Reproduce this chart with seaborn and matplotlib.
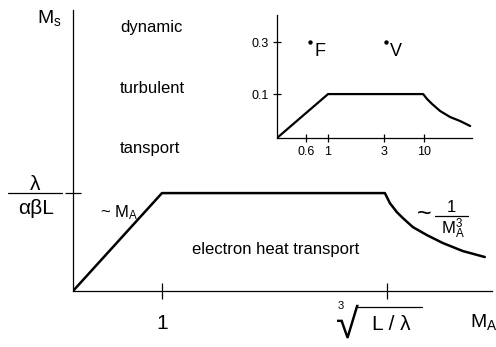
import matplotlib
matplotlib.use("Agg")
import matplotlib.pyplot as plt
from matplotlib.lines import Line2D
import seaborn as sns

# main sketch: M_s versus M_A (schematic units, knee at 1, roll-off at cube root)
main_x = [0, 1, 3.506, 3.562, 3.640, 3.708, 3.820, 3.978, 4.157, 4.382, 4.629]
main_y = [0, 1, 1.0, 0.898, 0.806, 0.745, 0.653, 0.571, 0.490, 0.408, 0.347]
main_xticks = [1, 3.53]
main_xticklabels = ["1", ""]      # second one is drawn by hand below
main_yticks = [1]

# inset sketch
inset_x = [0, 1, 2.863, 2.941, 3.039, 3.196, 3.392, 3.588, 3.784]
inset_y = [0, 1, 1.0, 0.886, 0.773, 0.614, 0.477, 0.386, 0.273]
inset_xticks = [0.57, 1, 2.1, 2.88]
inset_xticklabels = ["0.6", "1", "3", "10"]
inset_yticks = [1, 2.18]
inset_yticklabels = ["0.1", "0.3"]
point_names = ["F", "V"]
point_x = [0.65, 2.14]
point_y = [2.18, 2.18]

sns.set_theme(style="ticks")
plt.rcParams["font.family"] = ["Liberation Sans", "DejaVu Sans"]
plt.rcParams["mathtext.fontset"] = "custom"
plt.rcParams["mathtext.rm"] = "Liberation Sans"
plt.rcParams["mathtext.it"] = "Liberation Sans"
plt.rcParams["mathtext.bf"] = "Liberation Sans:bold"

W, H = 496, 347
fig = plt.figure(figsize=(W / 100, H / 100), dpi=100)


def fx(px):
    return px / W


def fy(py):
    return 1 - py / H


def ftext(px, py, s, size, **kw):
    kw.setdefault("ha", "center")
    kw.setdefault("va", "center")
    fig.text(fx(px), fy(py), s, fontsize=size, color="black", **kw)


def fbar(x0, x1, py):
    fig.add_artist(Line2D([fx(x0), fx(x1)], [fy(py), fy(py)],
                          transform=fig.transFigure, color="black", lw=0.9))


ax = fig.add_axes([fx(73), 56 / H, 419 / W, 281 / H])

sns.lineplot(x=main_x, y=main_y, ax=ax, color="black", lw=1.8,
             estimator=None, sort=False)
ax.set_xlim(0, 4.71)
ax.set_ylim(0, 2.87)
sns.despine(ax=ax)
for s in ["left", "bottom"]:
    ax.spines[s].set_color("black")
    ax.spines[s].set_linewidth(0.9)

ax.set_xticks(main_xticks)
ax.set_xticklabels(main_xticklabels, fontsize=15)
ax.set_yticks(main_yticks)
ax.set_yticklabels([""])
ax.tick_params(axis="both", direction="inout", length=11, width=0.9,
               color="black", labelcolor="black", bottom=True, left=True)
ax.tick_params(axis="x", pad=11)

# y tick label  lambda / (alpha beta L)
ftext(35, 185, "λ", 15)
fbar(8, 62, 193)
ftext(36, 208, "αβL", 15)

# x tick label  cube root of L / lambda
ftext(341, 306, "3", 8)
ftext(359, 338, "√", 30, ha="right", va="baseline")
fbar(357, 422, 307)
ftext(391, 324, "L / λ", 15)

txt = dict(fontsize=12, color="black", va="center", ha="left")
ax.text(0.53, 2.69, "dynamic", **txt)
ax.text(0.53, 2.07, "turbulent", **txt)
ax.text(0.53, 1.46, "tansport", **txt)
ax.text(0.30, 0.80, r"~ M$_\mathrm{A}$", **txt)
ax.text(1.34, 0.42, "electron heat transport", **txt)

# ~ 1 / M_A^3
ftext(424, 214, "~", 18)
ftext(451, 207, "1", 12)
fbar(435, 468, 216)
ftext(453, 229, r"M$_\mathrm{A}^\mathrm{3}$", 12)

ftext(37, 18, r"M$_\mathrm{s}$", 14, ha="left")
ftext(470, 322, r"M$_\mathrm{A}$", 14, ha="left")

# inset
ins = fig.add_axes([fx(277), 209 / H, 195 / W, 123 / H])
sns.lineplot(x=inset_x, y=inset_y, ax=ins, color="black", lw=1.6,
             estimator=None, sort=False)
sns.scatterplot(x=point_x, y=point_y, ax=ins, color="black", s=10,
                edgecolor="black", linewidth=0)
for n, px, py in zip(point_names, point_x, point_y):
    ins.text(px + 0.08, py - 0.2, n, fontsize=13, color="black",
             va="center", ha="left")
ins.set_xlim(0, 3.82)
ins.set_ylim(0, 2.8)
ins.patch.set_alpha(0)
sns.despine(ax=ins)
for s in ["left", "bottom"]:
    ins.spines[s].set_color("black")
    ins.spines[s].set_linewidth(0.9)
ins.set_xticks(inset_xticks)
ins.set_xticklabels(inset_xticklabels, fontsize=9)
ins.set_yticks(inset_yticks)
ins.set_yticklabels(inset_yticklabels, fontsize=9)
ins.tick_params(axis="both", direction="inout", length=6, width=0.9,
                color="black", labelcolor="black", pad=3,
                bottom=True, left=True)

fig.savefig("out.png", dpi=100)
